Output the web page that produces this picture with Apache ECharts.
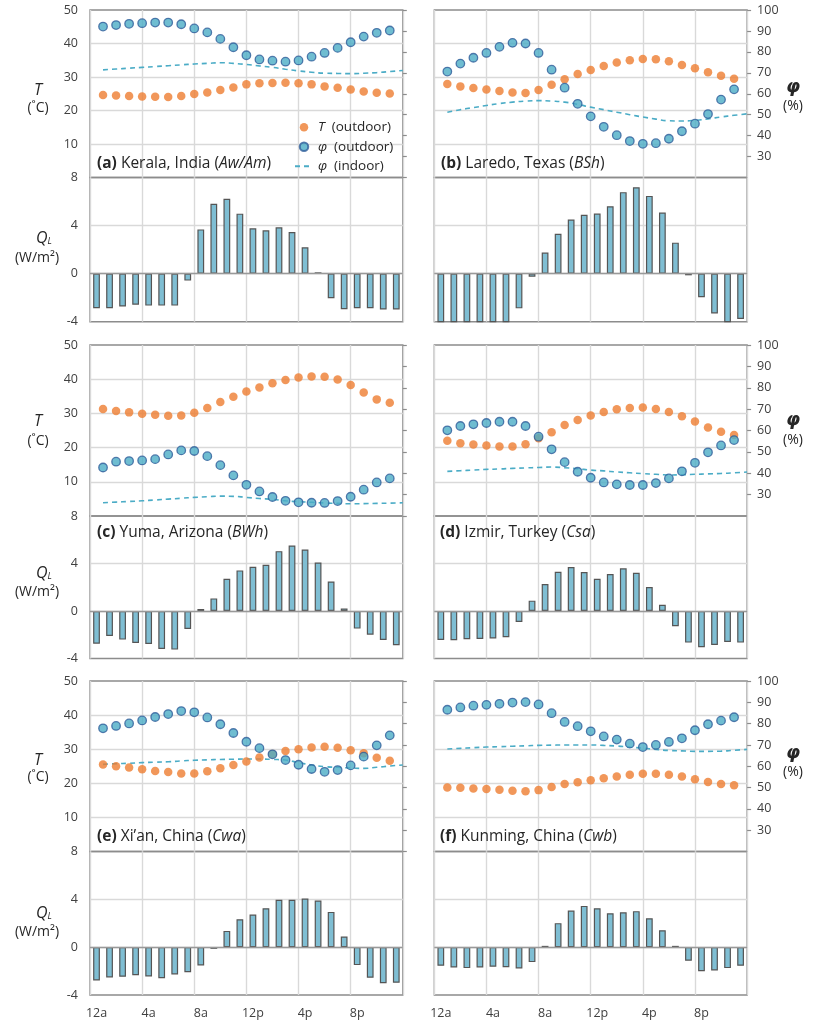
<!DOCTYPE html>
<html><head><meta charset="utf-8">
<script src="https://cdn.jsdelivr.net/npm/echarts@6/dist/echarts.min.js"></script>
<style>html,body{margin:0;padding:0;background:#fff}#c{width:814px;height:1024px}</style>
</head><body><div id="c"></div>
<script>
// ---------- data ----------
const hoursPts = [1,2,3,4,5,6,7,8,9,10,11,12,13,14,15,16,17,18,19,20,21,22,23];
const hoursLine = [1,2,3,4,5,6,7,8,9,10,11,12,13,14,15,16,17,18,19,20,21,22,23,24];
const hourLabels = ['12a','1a','2a','3a','4a','5a','6a','7a','8a','9a','10a','11a','12p','1p','2p','3p','4p','5p','6p','7p','8p','9p','10p','11p'];

const tOutA = [24.6,24.5,24.3,24.2,24.1,24.0,24.3,24.9,25.4,26.1,26.9,27.8,28.1,28.2,28.3,28.1,27.8,27.2,26.8,26.3,25.7,25.3,25.1];
const phiOutA = [92.1,92.8,93.4,93.7,94.0,94.0,93.2,91.2,89.3,86.2,82.2,78.4,76.4,75.8,75.3,75.9,77.7,79.5,81.9,84.6,87.3,89.1,90.2];
const phiInA = [71.4,71.8,72.2,72.6,73.0,73.4,73.8,74.2,74.5,74.8,74.5,74.0,73.3,72.6,71.7,70.9,70.3,69.8,69.7,69.6,69.8,70.1,70.6,71.1];
const qA = [-2.88,-2.88,-2.74,-2.58,-2.66,-2.66,-2.66,-0.58,3.68,5.82,6.23,4.99,3.77,3.60,3.85,3.46,2.19,0.11,-2.05,-2.96,-2.88,-2.88,-2.99,-2.99];

const tOutB = [27.9,27.2,26.7,26.3,25.8,25.4,25.2,26.1,27.7,29.3,30.9,32.1,33.3,34.3,35.0,35.4,35.3,34.7,33.6,32.6,31.4,30.4,29.5];
const phiOutB = [70.6,74.4,77.2,79.5,82.4,84.3,84.0,79.5,71.5,62.9,55.2,49.2,44.2,40.2,37.4,36.1,36.4,38.5,42.1,45.7,50.3,57.2,62.1];
const phiInB = [51.2,52.4,53.4,54.4,55.3,56.0,56.5,56.7,56.5,56.0,54.9,53.6,52.4,51.2,50.0,48.9,47.9,47.1,47.0,47.3,48.0,48.9,49.7,50.4];
const qB = [-4.4,-4.4,-4.4,-4.4,-4.4,-4.4,-2.89,-0.25,1.75,3.31,4.5,4.89,5.0,5.61,6.78,7.19,6.47,5.08,2.58,-0.14,-1.97,-3.31,-4.4,-3.78];

const tOutC = [31.3,30.7,30.3,29.9,29.6,29.3,29.4,30.2,31.6,33.3,34.9,36.4,37.6,38.8,39.8,40.5,40.8,40.7,39.9,38.3,36.1,34.1,33.1];
const phiOutC = [42.7,45.4,45.7,46.0,46.6,48.8,50.7,50.4,48.0,43.8,39.0,34.6,31.5,28.9,27.1,26.4,26.2,26.1,27.0,29.0,32.3,35.7,37.6];
const phiInC = [26.2,26.5,26.8,27.1,27.5,27.9,28.3,28.7,29.0,29.3,29.2,28.7,28.2,27.8,27.1,26.7,26.4,26.1,25.9,25.7,25.8,25.9,26.0,26.2];
const qC = [-2.75,-2.1,-2.41,-2.69,-2.77,-3.19,-3.25,-1.51,0.17,1.06,2.72,3.42,3.73,3.89,5.04,5.52,5.18,4.09,2.49,0.22,-1.48,-1.99,-2.44,-2.89];

const tOutD = [22.0,21.3,20.9,20.6,20.3,20.3,21.0,22.7,24.5,26.6,28.1,29.4,30.4,31.2,31.6,31.7,31.3,30.4,29.2,27.6,25.9,24.6,23.7];
const phiOutD = [60.1,62.1,62.9,63.5,64.1,64.1,62.1,57.1,51.2,45.2,40.7,37.9,35.7,34.8,34.5,34.5,35.4,37.6,40.9,44.9,49.8,53.0,55.5];
const phiInD = [40.9,41.2,41.5,41.8,42.0,42.3,42.5,42.7,42.9,42.6,42.1,41.5,41.1,40.6,40.2,39.8,39.5,39.2,39.3,39.5,39.7,39.9,40.2,40.6];
const qD = [-2.44,-2.46,-2.38,-2.35,-2.32,-2.21,-0.92,0.87,2.27,3.31,3.70,3.28,2.72,3.11,3.59,3.22,2.02,0.53,-1.29,-2.66,-3.05,-2.86,-2.61,-2.66];

const tOutE = [25.5,25.0,24.6,24.1,23.6,23.3,22.9,22.9,23.5,24.4,25.4,26.4,27.6,28.6,29.5,30.0,30.5,30.7,30.4,29.7,28.8,27.5,26.6];
const phiOutE = [77.8,78.9,80.1,81.5,83.1,84.5,85.9,85.3,82.9,79.7,75.6,71.5,68.5,65.6,62.9,60.7,58.7,57.4,58.2,60.4,64.5,69.8,74.5];
const phiInE = [60.9,61.2,61.4,61.7,61.9,62.1,62.5,62.8,63.0,63.2,63.3,63.4,63.4,63.2,62.9,61.7,60.6,59.8,59.5,59.2,59.0,59.5,60.1,60.6];
const qE = [-2.79,-2.53,-2.48,-2.34,-2.45,-2.59,-2.28,-2.09,-1.53,-0.14,1.36,2.34,2.73,3.26,3.96,3.96,4.07,3.90,2.95,0.89,-1.50,-2.56,-3.01,-2.98];

const tOutF = [18.8,18.7,18.5,18.3,18.1,17.8,17.7,18.0,18.9,19.8,20.3,20.9,21.5,22.0,22.5,22.8,22.8,22.5,22.0,21.2,20.4,19.8,19.4];
const phiOutF = [86.5,87.6,88.4,88.8,89.3,89.9,90.1,89.0,84.9,80.8,78.8,76.4,74.0,72.5,70.6,69.0,70.0,71.4,73.1,76.9,79.7,81.4,83.0];
const phiInF = [68.1,68.4,68.7,69.0,69.2,69.4,69.6,69.8,69.9,70.0,70.0,70.0,69.8,69.5,69.0,68.5,67.9,67.4,67.2,67.0,67.0,67.1,67.5,67.9];
const qF = [-1.56,-1.70,-1.75,-1.70,-1.64,-1.67,-1.78,-1.25,0.11,2.01,3.06,3.45,3.26,2.84,2.92,3.01,2.42,1.42,0.11,-1.14,-2.01,-1.95,-1.75,-1.56];

const tTicks = {min:0, max:50, interval:10};
const phiTicks = {min:20, max:100, interval:10};
const qTicks = {min:-4, max:8, interval:4};

const panelTitles = [
  ['(a)', ' Kerala, India (', 'Aw/Am', ')'],
  ['(b)', ' Laredo, Texas (', 'BSh', ')'],
  ['(c)', ' Yuma, Arizona (', 'BWh', ')'],
  ['(d)', ' Izmir, Turkey (', 'Csa', ')'],
  ['(e)', ' Xi\u2019an, China (', 'Cwa', ')'],
  ['(f)', ' Kunming, China (', 'Cwb', ')']
];
const panelData = [
  [tOutA, phiOutA, phiInA, qA],
  [tOutB, phiOutB, phiInB, qB],
  [tOutC, phiOutC, phiInC, qC],
  [tOutD, phiOutD, phiInD, qD],
  [tOutE, phiOutE, phiInE, qE],
  [tOutF, phiOutF, phiInF, qF]
];

// ---------- layout / style ----------
const FONT = '"Open Sans", Lato, "DejaVu Sans", sans-serif';
const colLeft = [90, 434.3], colW = 312.8;
const rowTop = [10, 345, 681], rowTopH = [167.5, 171, 170.5];
const rowBar = [177.5, 516, 851.5], rowBarH = [144.2, 142.5, 143.5];
const titlePos = [[97,164],[441,164],[97,533],[440,533],[97,837],[440,837]];
const borderC = '#8c8c8c', gridC = '#d9d9d9', labelC = '#404040', textC = '#262626';
const orange = '#ED7D31', phiFill = '#4BACC6', phiEdge = '#2E5C9A', barFill = '#7FBED3', barEdge = '#555555';
const TITLE_FS = 15.5;

const grids=[], xAxes=[], yAxes=[], series=[], graphics=[];
const seriesNames = ['T (outdoor)', '\u03c6 (outdoor)', '\u03c6 (indoor)'];

panelData.forEach((pd, i) => {
  const col = i % 2, row = Math.floor(i / 2);
  const left = colLeft[col];
  grids.push({left:left, width:colW, top:rowTop[row], height:rowTopH[row], show:true, borderColor:borderC, borderWidth:1.4});
  grids.push({left:left, width:colW, top:rowBar[row], height:rowBarH[row], show:true, borderColor:borderC, borderWidth:1.4});
  xAxes.push({type:'value', gridIndex:2*i, min:0, max:24, interval:4,
    axisLabel:{show:false}, axisTick:{show:false}, axisLine:{show:false},
    splitLine:{show:true, lineStyle:{color:gridC, width:1.4}}});
  xAxes.push({type:'category', gridIndex:2*i+1, data:hourLabels, boundaryGap:true,
    axisLabel:{show:row===2, interval:3, color:labelC, fontFamily:FONT, fontSize:12.5, margin:12},
    axisTick:{show:false, interval:3}, axisLine:{show:false},
    splitLine:{show:true, interval:3, lineStyle:{color:gridC, width:1.4}}});
  yAxes.push({type:'value', gridIndex:2*i, position:'left', min:tTicks.min, max:tTicks.max, interval:tTicks.interval,
    axisLabel:{show:col===0, showMinLabel:false, color:labelC, fontFamily:FONT, fontSize:12.5, margin:12},
    axisTick:{show:false}, axisLine:{show:false},
    splitLine:{show:true, showMinLine:false, showMaxLine:false, lineStyle:{color:gridC, width:1.4}}});
  yAxes.push({type:'value', gridIndex:2*i, position:'right', min:phiTicks.min, max:phiTicks.max, interval:phiTicks.interval,
    axisLabel:{show:col===1, showMinLabel:false, color:labelC, fontFamily:FONT, fontSize:12.5, margin:10},
    axisTick:{show:true, length:4, inside:false, lineStyle:{color:borderC, width:1.2}}, axisLine:{show:false},
    splitLine:{show:false}});
  yAxes.push({type:'value', gridIndex:2*i+1, position:'left', min:qTicks.min, max:qTicks.max, interval:qTicks.interval,
    axisLabel:{show:col===0, color:labelC, fontFamily:FONT, fontSize:12.5, margin:12},
    axisTick:{show:false}, axisLine:{show:false},
    splitLine:{show:true, showMinLine:false, showMaxLine:false, lineStyle:{color:gridC, width:1.4}}});

  const [tOut, phiOut, phiIn, q] = pd;
  series.push({name:seriesNames[2], type:'line', xAxisIndex:2*i, yAxisIndex:3*i+1, z:2,
    data:hoursLine.map((h,k)=>[h, phiIn[k]]), smooth:true, symbol:'none',
    lineStyle:{color:phiFill, width:1.6, type:[5,4]}, itemStyle:{color:phiFill}});
  series.push({name:seriesNames[0], type:'scatter', xAxisIndex:2*i, yAxisIndex:3*i, z:3,
    data:hoursPts.map((h,k)=>[h, tOut[k]]), symbol:'circle', symbolSize:8.5,
    itemStyle:{color:orange}});
  series.push({name:seriesNames[1], type:'scatter', xAxisIndex:2*i, yAxisIndex:3*i+1, z:4,
    data:hoursPts.map((h,k)=>[h, phiOut[k]]), symbol:'circle', symbolSize:8.5,
    itemStyle:{color:phiFill, borderColor:phiEdge, borderWidth:1.3}});
  series.push({type:'bar', xAxisIndex:2*i+1, yAxisIndex:3*i+2, data:q, barWidth:'52%', clip:true,
    itemStyle:{color:barFill, borderColor:barEdge, borderWidth:1.2},
    markLine:{silent:true, symbol:'none', label:{show:false}, animation:false,
      lineStyle:{color:'#999999', width:1.4, type:'solid'}, data:[{yAxis:0}]}});

  const t = panelTitles[i];
  graphics.push({type:'text', x:titlePos[i][0], y:titlePos[i][1], z:10,
    style:{text:'{b|' + t[0] + '}' + t[1] + '{i|' + t[2] + '}' + t[3],
      fontFamily:FONT, fontSize:TITLE_FS, fill:textC, textVerticalAlign:'middle', textAlign:'left',
      rich:{b:{fontWeight:'bold', fontFamily:FONT, fontSize:TITLE_FS, fill:textC},
            i:{fontStyle:'italic', fontFamily:FONT, fontSize:TITLE_FS, fill:textC}}}});
});

// axis names
const tNameY = [[90,108],[421,441],[760,777]];
const phiNameY = [[87,106],[420,440],[753,772]];
const qNameY = [[238,258],[573,592],[913,932]];
for (let r=0;r<3;r++){
  graphics.push({type:'text', x:38, y:tNameY[r][0], style:{text:'T', fontFamily:FONT, fontSize:16, fontStyle:'italic', fill:textC, textAlign:'center', textVerticalAlign:'middle'}});
  graphics.push({type:'text', x:38, y:tNameY[r][1], style:{text:'(\u02daC)', fontFamily:FONT, fontSize:14, fill:textC, textAlign:'center', textVerticalAlign:'middle'}});
  graphics.push({type:'text', x:793, y:phiNameY[r][0], style:{text:'\u03c6', fontFamily:'"DejaVu Sans", sans-serif', fontSize:18, fontStyle:'italic', fontWeight:'bold', fill:textC, textAlign:'center', textVerticalAlign:'middle'}});
  graphics.push({type:'text', x:793, y:phiNameY[r][1], style:{text:'(%)', fontFamily:FONT, fontSize:14, fill:textC, textAlign:'center', textVerticalAlign:'middle'}});
  graphics.push({type:'text', x:44, y:qNameY[r][0], style:{text:'{q|Q}{s|L}', fontFamily:FONT, fontSize:16, fill:textC, textAlign:'center', textVerticalAlign:'middle',
    rich:{q:{fontStyle:'italic', fontFamily:FONT, fontSize:16, fill:textC}, s:{fontStyle:'italic', fontFamily:FONT, fontSize:9, fill:textC, padding:[6,0,0,0]}}}});
  graphics.push({type:'text', x:37, y:qNameY[r][1], style:{text:'(W/m\u00b2)', fontFamily:FONT, fontSize:14, fill:textC, textAlign:'center', textVerticalAlign:'middle'}});
}

const chart = echarts.init(document.getElementById('c'), null, {renderer:'canvas'});
chart.setOption({
  animation:false,
  backgroundColor:'#ffffff',
  grid:grids, xAxis:xAxes, yAxis:yAxes, series:series, graphic:graphics,
  legend:{orient:'vertical', left:289, top:115, itemWidth:18, itemHeight:8.5, itemGap:5, itemTextGap:7,
    selectedMode:false,
    data:[{name:seriesNames[0]}, {name:seriesNames[1]}, {name:seriesNames[2], itemStyle:{opacity:0}}],
    formatter:function(name){ const s = name.split(' '); return '{i|' + s[0] + '}  ' + s[1]; },
    textStyle:{fontFamily:FONT, fontSize:13.5, color:textC, lineHeight:14.5,
      rich:{i:{fontStyle:'italic', fontFamily:FONT, fontSize:13.5, color:textC}}}}
});
</script></body></html>
